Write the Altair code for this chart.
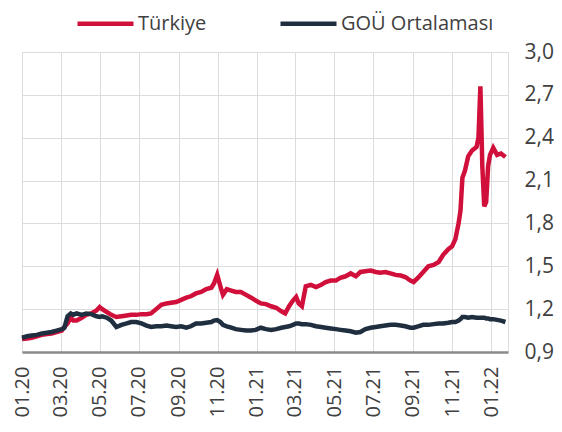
import altair as alt
import pandas as pd

dates = [
    "2020-01-01", "2020-01-09", "2020-01-16", "2020-01-24", "2020-02-01", "2020-02-09", "2020-02-16", "2020-02-24",
    "2020-03-03", "2020-03-07", "2020-03-12", "2020-03-17", "2020-03-21", "2020-03-26", "2020-04-03", "2020-04-10",
    "2020-04-18", "2020-04-26", "2020-05-01", "2020-05-05", "2020-05-12", "2020-05-19", "2020-05-27", "2020-06-04",
    "2020-06-12", "2020-06-19", "2020-06-27", "2020-07-05", "2020-07-13", "2020-07-20", "2020-07-28", "2020-08-05",
    "2020-08-13", "2020-08-20", "2020-08-28", "2020-09-05", "2020-09-13", "2020-09-20", "2020-09-28", "2020-10-06",
    "2020-10-14", "2020-10-22", "2020-10-26", "2020-10-31", "2020-11-05", "2020-11-09", "2020-11-15", "2020-11-22",
    "2020-11-29", "2020-12-07", "2020-12-15", "2020-12-23", "2020-12-30", "2021-01-07", "2021-01-15", "2021-01-23",
    "2021-01-31", "2021-02-08", "2021-02-14", "2021-02-20", "2021-02-26", "2021-03-03", "2021-03-07", "2021-03-12",
    "2021-03-18", "2021-03-26", "2021-04-03", "2021-04-11", "2021-04-18", "2021-04-26", "2021-05-04", "2021-05-11",
    "2021-05-19", "2021-05-27", "2021-06-04", "2021-06-11", "2021-06-19", "2021-06-27", "2021-07-05", "2021-07-12",
    "2021-07-20", "2021-07-28", "2021-08-05", "2021-08-13", "2021-08-20", "2021-08-28", "2021-09-02", "2021-09-09",
    "2021-09-17", "2021-09-25", "2021-10-03", "2021-10-11", "2021-10-18", "2021-10-26", "2021-11-01", "2021-11-06",
    "2021-11-11", "2021-11-14", "2021-11-17", "2021-11-21", "2021-11-26", "2021-12-02", "2021-12-09", "2021-12-12",
    "2021-12-15", "2021-12-18", "2021-12-21", "2021-12-24", "2021-12-27", "2021-12-30", "2022-01-04", "2022-01-10",
    "2022-01-16", "2022-01-23",
]

turkiye = [
    0.99, 0.995, 1.00, 1.01, 1.02, 1.025, 1.03, 1.04, 1.05, 1.075, 1.10, 1.14, 1.12, 1.12, 1.14, 1.16,
    1.17, 1.19, 1.215, 1.20, 1.18, 1.16, 1.145, 1.15, 1.155, 1.16, 1.16, 1.165, 1.165, 1.17, 1.20, 1.23,
    1.24, 1.245, 1.25, 1.265, 1.28, 1.29, 1.31, 1.32, 1.34, 1.35, 1.38, 1.44, 1.36, 1.30, 1.34, 1.33,
    1.32, 1.32, 1.30, 1.28, 1.26, 1.24, 1.235, 1.22, 1.21, 1.185, 1.17, 1.22, 1.26, 1.285, 1.24, 1.22,
    1.36, 1.37, 1.355, 1.37, 1.39, 1.40, 1.40, 1.42, 1.43, 1.45, 1.43, 1.46, 1.465, 1.47, 1.46, 1.455,
    1.46, 1.45, 1.44, 1.435, 1.425, 1.40, 1.39, 1.42, 1.46, 1.50, 1.51, 1.53, 1.58, 1.62, 1.64, 1.69,
    1.80, 1.89, 2.12, 2.17, 2.27, 2.31, 2.335, 2.40, 2.76, 2.20, 1.92, 1.95, 2.20, 2.28, 2.33, 2.28,
    2.29, 2.265,
]

gou = [
    1.00, 1.01, 1.015, 1.02, 1.03, 1.035, 1.04, 1.05, 1.06, 1.07, 1.15, 1.17, 1.16, 1.17, 1.16, 1.17,
    1.165, 1.15, 1.145, 1.15, 1.14, 1.12, 1.075, 1.09, 1.10, 1.11, 1.11, 1.10, 1.085, 1.075, 1.08, 1.08,
    1.085, 1.08, 1.075, 1.08, 1.07, 1.08, 1.10, 1.10, 1.105, 1.11, 1.12, 1.124, 1.11, 1.09, 1.08, 1.07,
    1.06, 1.055, 1.05, 1.05, 1.055, 1.07, 1.06, 1.055, 1.06, 1.07, 1.075, 1.08, 1.09, 1.10, 1.10, 1.095,
    1.095, 1.09, 1.08, 1.075, 1.07, 1.065, 1.06, 1.055, 1.05, 1.045, 1.035, 1.04, 1.06, 1.07, 1.075, 1.08,
    1.085, 1.09, 1.09, 1.085, 1.08, 1.07, 1.07, 1.08, 1.09, 1.09, 1.095, 1.10, 1.10, 1.105, 1.11, 1.11,
    1.12, 1.13, 1.145, 1.145, 1.14, 1.145, 1.14, 1.14, 1.14, 1.14, 1.14, 1.135, 1.135, 1.13, 1.13, 1.125,
    1.12, 1.11,
]

series_names = ["Türkiye", "GOÜ Ortalaması"]
series_colors = ["#D0103A", "#1F2F40"]
y_ticks = [0.9, 1.2, 1.5, 1.8, 2.1, 2.4, 2.7, 3.0]
x_tick_months = [(2020, 1), (2020, 3), (2020, 5), (2020, 7), (2020, 9), (2020, 11),
                 (2021, 1), (2021, 3), (2021, 5), (2021, 7), (2021, 9), (2021, 11), (2022, 1)]

df = pd.concat([
    pd.DataFrame({"date": dates, "value": turkiye, "series": series_names[0]}),
    pd.DataFrame({"date": dates, "value": gou, "series": series_names[1]}),
])

FONT = "Open Sans"

x_enc = alt.X(
    "date:T",
    scale=alt.Scale(type="utc",
                    domain=[alt.DateTime(year=2020, month=1, date=1, utc=True),
                            alt.DateTime(year=2022, month=1, date=27, utc=True)]),
    axis=alt.Axis(
        title=None,
        values=[alt.DateTime(year=y, month=m, date=1, utc=True) for y, m in x_tick_months],
        format="%m.%y",
        labelAngle=-90,
        labelFontSize=20,
        labelFont=FONT,
        labelColor="#404040",
        labelPadding=14,
        labelOverlap=False,
        labelFlush=False,
        ticks=False,
        grid=True,
        gridColor="#dcdcdc",
        gridWidth=1,
        domain=True,
        domainColor="#8a8a8a",
        domainWidth=2.5,
    ),
)
y_enc = alt.Y(
    "value:Q",
    scale=alt.Scale(domain=[0.9, 3.0], nice=False, zero=False),
    axis=alt.Axis(
        title=None,
        orient="right",
        values=y_ticks,
        labelExpr="replace(format(datum.value, '.1f'), '.', ',')",
        labelFontSize=21,
        labelFont=FONT,
        labelColor="#404040",
        labelPadding=16,
        ticks=False,
        domain=False,
        grid=True,
        gridColor="#dcdcdc",
        gridWidth=1,
    ),
)
color_enc = alt.Color(
    "series:N",
    scale=alt.Scale(domain=series_names, range=series_colors),
    legend=alt.Legend(
        title=None,
        orient="none",
        direction="horizontal",
        legendX=53,
        legendY=-59,
        symbolType="stroke",
        symbolSize=3136,
        symbolStrokeWidth=4.5,
        labelFontSize=20,
        labelFont=FONT,
        labelColor="#404040",
        labelOffset=2,
        labelLimit=400,
        columnPadding=64,
    ),
)

red = alt.Chart(df).transform_filter(alt.datum.series == series_names[0]).mark_line(
    strokeWidth=4.5, interpolate="linear").encode(x=x_enc, y=y_enc, color=color_enc)
navy = alt.Chart(df).transform_filter(alt.datum.series == series_names[1]).mark_line(
    strokeWidth=4.5, interpolate="linear").encode(x=x_enc, y=y_enc, color=color_enc)

chart = alt.layer(red, navy).properties(
    width=486, height=300,
    padding={"left": 14, "top": 44, "right": 46, "bottom": 72},
    autosize="none",
).configure_view(stroke=None).configure(background="white")

chart.save("out.html", embed_options={"renderer": "svg", "actions": False})
